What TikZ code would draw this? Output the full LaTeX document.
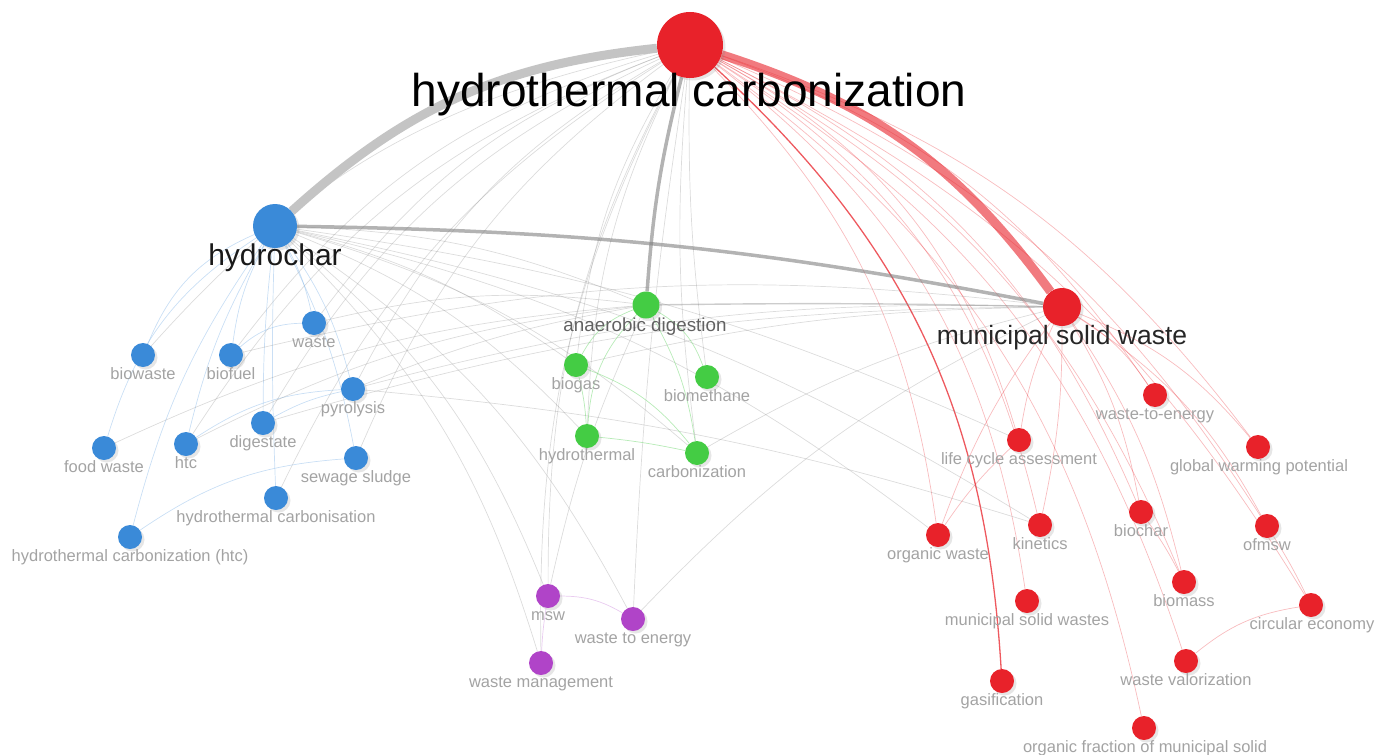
\documentclass[tikz,border=0pt]{standalone}
\usepackage{fontspec}
\setmainfont{Liberation Sans}
\usetikzlibrary{shadows}
\definecolor{nred}{HTML}{E8222A}
\definecolor{nblue}{HTML}{3A8AD8}
\definecolor{ngreen}{HTML}{44CC44}
\definecolor{npurple}{HTML}{B044C8}
\definecolor{lgray}{HTML}{A3A3A3}
\pgfdeclarelayer{edges}
\pgfsetlayers{edges,main}
\tikzset{
 kw/.style={circle,inner sep=0pt,minimum size=24bp,draw=none,
   drop shadow={shadow xshift=2.5bp,shadow yshift=-2.5bp,opacity=.2}},
 rk/.style={kw,fill=nred},
 bk/.style={kw,fill=nblue},
 gk/.style={kw,fill=ngreen},
 pk/.style={kw,fill=npurple},
 sl/.style={anchor=base,inner sep=0pt,text=lgray,font=\fontsize{16.5bp}{18bp}\selectfont},
 ge/.style={draw=black!50,draw opacity=.28,line width=.7bp},
 re/.style={draw=nred,draw opacity=.3,line width=.7bp},
 be/.style={draw=nblue!60,draw opacity=.45,line width=.7bp},
 gre/.style={draw=ngreen!70,draw opacity=.55,line width=.7bp},
 pe/.style={draw=npurple!55,draw opacity=.5,line width=.7bp},
}
\begin{document}
\begin{tikzpicture}[x=1bp,y=-1bp]
\useasboundingbox (0,0) rectangle (1386,754);
% ---------- nodes ----------
\node[rk,minimum size=66bp] (htc) at (690,45) {};
\node[bk,minimum size=44bp] (hchar) at (275,226) {};
\node[rk,minimum size=38bp] (msw) at (1062,307) {};
\node[gk,minimum size=27bp] (ad) at (646,305) {};
\node[gk] (biogas) at (576,365) {};
\node[gk] (biometh) at (707,377) {};
\node[gk] (hydrot) at (587,436) {};
\node[gk] (carb) at (697,453) {};
\node[pk] (mswp) at (548,596) {};
\node[pk] (wte) at (633,619) {};
\node[pk] (wm) at (541,663) {};
\node[bk] (biowaste) at (143,355) {};
\node[bk] (biofuel) at (231,355) {};
\node[bk] (waste) at (314,323) {};
\node[bk] (pyro) at (353,389) {};
\node[bk] (food) at (104,448) {};
\node[bk] (htcb) at (186,444) {};
\node[bk] (dig) at (263,423) {};
\node[bk] (sew) at (356,458) {};
\node[bk] (hcarb) at (276,498) {};
\node[bk] (hcarbhtc) at (130,537) {};
\node[rk] (w2e) at (1155,395) {};
\node[rk] (lca) at (1019,440) {};
\node[rk] (gwp) at (1258,447) {};
\node[rk] (ow) at (938,535) {};
\node[rk] (kin) at (1040,525) {};
\node[rk] (biochar) at (1141,512) {};
\node[rk] (ofmsw) at (1267,526) {};
\node[rk] (biomass) at (1184,582) {};
\node[rk] (msws) at (1027,601) {};
\node[rk] (ce) at (1311,605) {};
\node[rk] (wv) at (1186,661) {};
\node[rk] (gas) at (1002,681) {};
\node[rk] (ofm) at (1144,728) {};
% ---------- labels ----------
\node[anchor=base,inner sep=0pt,font=\fontsize{46bp}{50bp}\selectfont] (l-htc) at (689,106) {hydrothermal carbonization};
\node[anchor=base,inner sep=0pt,text=black!90,font=\fontsize{30bp}{32bp}\selectfont] (l-hchar) at (275,265) {hydrochar};
\node[anchor=base,inner sep=0pt,text=black!85,font=\fontsize{26.5bp}{28bp}\selectfont] (l-msw) at (1062,344) {municipal solid waste};
\node[anchor=base,inner sep=0pt,text=black!62,font=\fontsize{18.8bp}{20bp}\selectfont] (l-ad) at (645,331) {anaerobic digestion};
\node[sl] (l-biogas) at (576,389) {biogas};
\node[sl] (l-biometh) at (707,401) {biomethane};
\node[sl] (l-hydrot) at (587,460) {hydrothermal};
\node[sl] (l-carb) at (697,477) {carbonization};
\node[sl] (l-mswp) at (548,620) {msw};
\node[sl] (l-wte) at (633,643) {waste to energy};
\node[sl] (l-wm) at (541,687) {waste management};
\node[sl] (l-biowaste) at (143,379) {biowaste};
\node[sl] (l-biofuel) at (231,379) {biofuel};
\node[sl] (l-waste) at (314,347) {waste};
\node[sl] (l-pyro) at (353,413) {pyrolysis};
\node[sl] (l-food) at (104,472) {food waste};
\node[sl] (l-htcb) at (186,468) {htc};
\node[sl] (l-dig) at (263,447) {digestate};
\node[sl] (l-sew) at (356,482) {sewage sludge};
\node[sl] (l-hcarb) at (276,522) {hydrothermal carbonisation};
\node[sl] (l-hcarbhtc) at (130,561) {hydrothermal carbonization (htc)};
\node[sl] (l-w2e) at (1155,419) {waste-to-energy};
\node[sl] (l-lca) at (1019,464) {life cycle assessment};
\node[sl] (l-gwp) at (1259,471) {global warming potential};
\node[sl] (l-ow) at (938,559) {organic waste};
\node[sl] (l-kin) at (1040,549) {kinetics};
\node[sl] (l-biochar) at (1141,536) {biochar};
\node[sl] (l-ofmsw) at (1267,550) {ofmsw};
\node[sl] (l-biomass) at (1184,606) {biomass};
\node[sl] (l-msws) at (1027,625) {municipal solid wastes};
\node[sl] (l-ce) at (1312,629) {circular economy};
\node[sl] (l-wv) at (1186,685) {waste valorization};
\node[sl] (l-gas) at (1002,705) {gasification};
\node[sl] (l-ofm) at (1145,752) {organic fraction of municipal solid};
% ---------- edges ----------
\begin{pgfonlayer}{edges}
% thin grey: HTC to left / centre
\foreach \n/\b in {biowaste/18,biofuel/18,waste/16,pyro/16,htcb/18,dig/17,sew/15,hcarb/16,biogas/12,hydrot/12,carb/6,biometh/4,mswp/14,wm/14}
  \draw[ge] (\n) to[bend left=\b] (htc);
\draw[ge] (wte) to[bend left=3] (htc);
% thin red: HTC to red nodes
\foreach \n/\b in {w2e/18,lca/22,gwp/17,ow/18,kin/22,biochar/20,ofmsw/17,biomass/19,msws/22,ce/16,wv/20,ofm/21}
  \draw[re] (htc) to[bend left=\b] (\n);
\draw[draw=nred,draw opacity=.75,line width=1.3bp] (htc) to[bend left=22] (gas);
% hydrochar blue edges
\foreach \n/\b in {biowaste/22,food/20,biofuel/10,htcb/8,dig/3,hcarb/2,hcarbhtc/10}
  \draw[be] (\n) to[bend left=\b] (hchar);
\foreach \n/\b in {waste/8,pyro/10,sew/8}
  \draw[be] (hchar) to[bend left=\b] (\n);
\draw[be] (htcb) to[bend left=15] (pyro);
\draw[be] (hcarbhtc) to[bend left=15] (sew);
\draw[be] (biofuel) to[bend left=20] (waste);
\draw[be] (dig) to[bend left=8] (pyro);
% hydrochar grey edges to the right
\foreach \n/\b in {ad/10,biogas/10,hydrot/12,carb/12,mswp/14,wte/14,wm/14,ow/12,kin/10,lca/8}
  \draw[ge] (hchar) to[bend left=\b] (\n);
% other grey cross links
\draw[ge] (pyro) to[bend left=8] (msw);
\draw[ge] (pyro) to[bend left=6] (ad);
\draw[ge] (pyro) to[bend left=6] (kin);
\draw[ge] (biofuel) to[bend left=10] (msw);
\draw[ge] (dig) to[bend left=8] (msw);
\draw[ge] (food) to[bend left=10] (ad);
\draw[ge] (htcb) to[bend left=10] (ad);
\draw[ge] (waste) to[bend left=10] (ad);
\draw[ge] (biogas) to[bend left=6] (msw);
\draw[ge] (carb) to[bend left=8] (msw);
\draw[ge] (wte) to[bend left=10] (msw);
\draw[ge] (mswp) to[bend left=6] (ad);
\draw[draw=black!50,draw opacity=.4,line width=1.4bp] (ad) to[bend left=1] (msw);
% green cluster
\draw[gre] (biogas) to[bend left=20] (ad);
\draw[gre] (hydrot) to[bend left=20] (ad);
\draw[gre] (ad) to[bend left=10] (carb);
\draw[gre] (ad) to[bend left=20] (biometh);
\draw[gre] (biogas) to[bend left=15] (carb);
\draw[gre] (biogas) to[bend left=5] (hydrot);
\draw[gre] (hydrot) to[bend left=3] (carb);
% purple cluster
\draw[pe] (mswp) to[bend left=15] (wte);
\draw[pe] (wm) to[bend left=3] (mswp);
% red cluster
\draw[re] (lca) to[bend left=8] (msw);
\draw[re] (ow) to[bend left=8] (msw);
\draw[re] (ow) to[bend left=6] (lca);
\foreach \n/\b in {w2e/12,gwp/14,ofmsw/14,biochar/10,biomass/10,kin/6}
  \draw[re] (msw) to[bend left=\b] (\n);
\draw[re] (biochar) to[bend left=4] (biomass);
\draw[re] (wv) to[bend left=15] (ce);
\draw[re] (ofmsw) to[bend left=3] (ce);
% main thick edges
\draw[draw=black!50,draw opacity=.6,line width=3.5bp] (hchar) to[bend left=5] (msw);
\draw[draw=black!50,draw opacity=.6,line width=3.5bp] (ad) to[bend left=5] (htc);
\draw[draw=black!23,line width=9bp] (hchar) to[bend left=18] (htc);
\draw[draw=nred,draw opacity=.6,line width=9bp] (htc) to[bend left=18] (msw);
\end{pgfonlayer}
\end{tikzpicture}
\end{document}
